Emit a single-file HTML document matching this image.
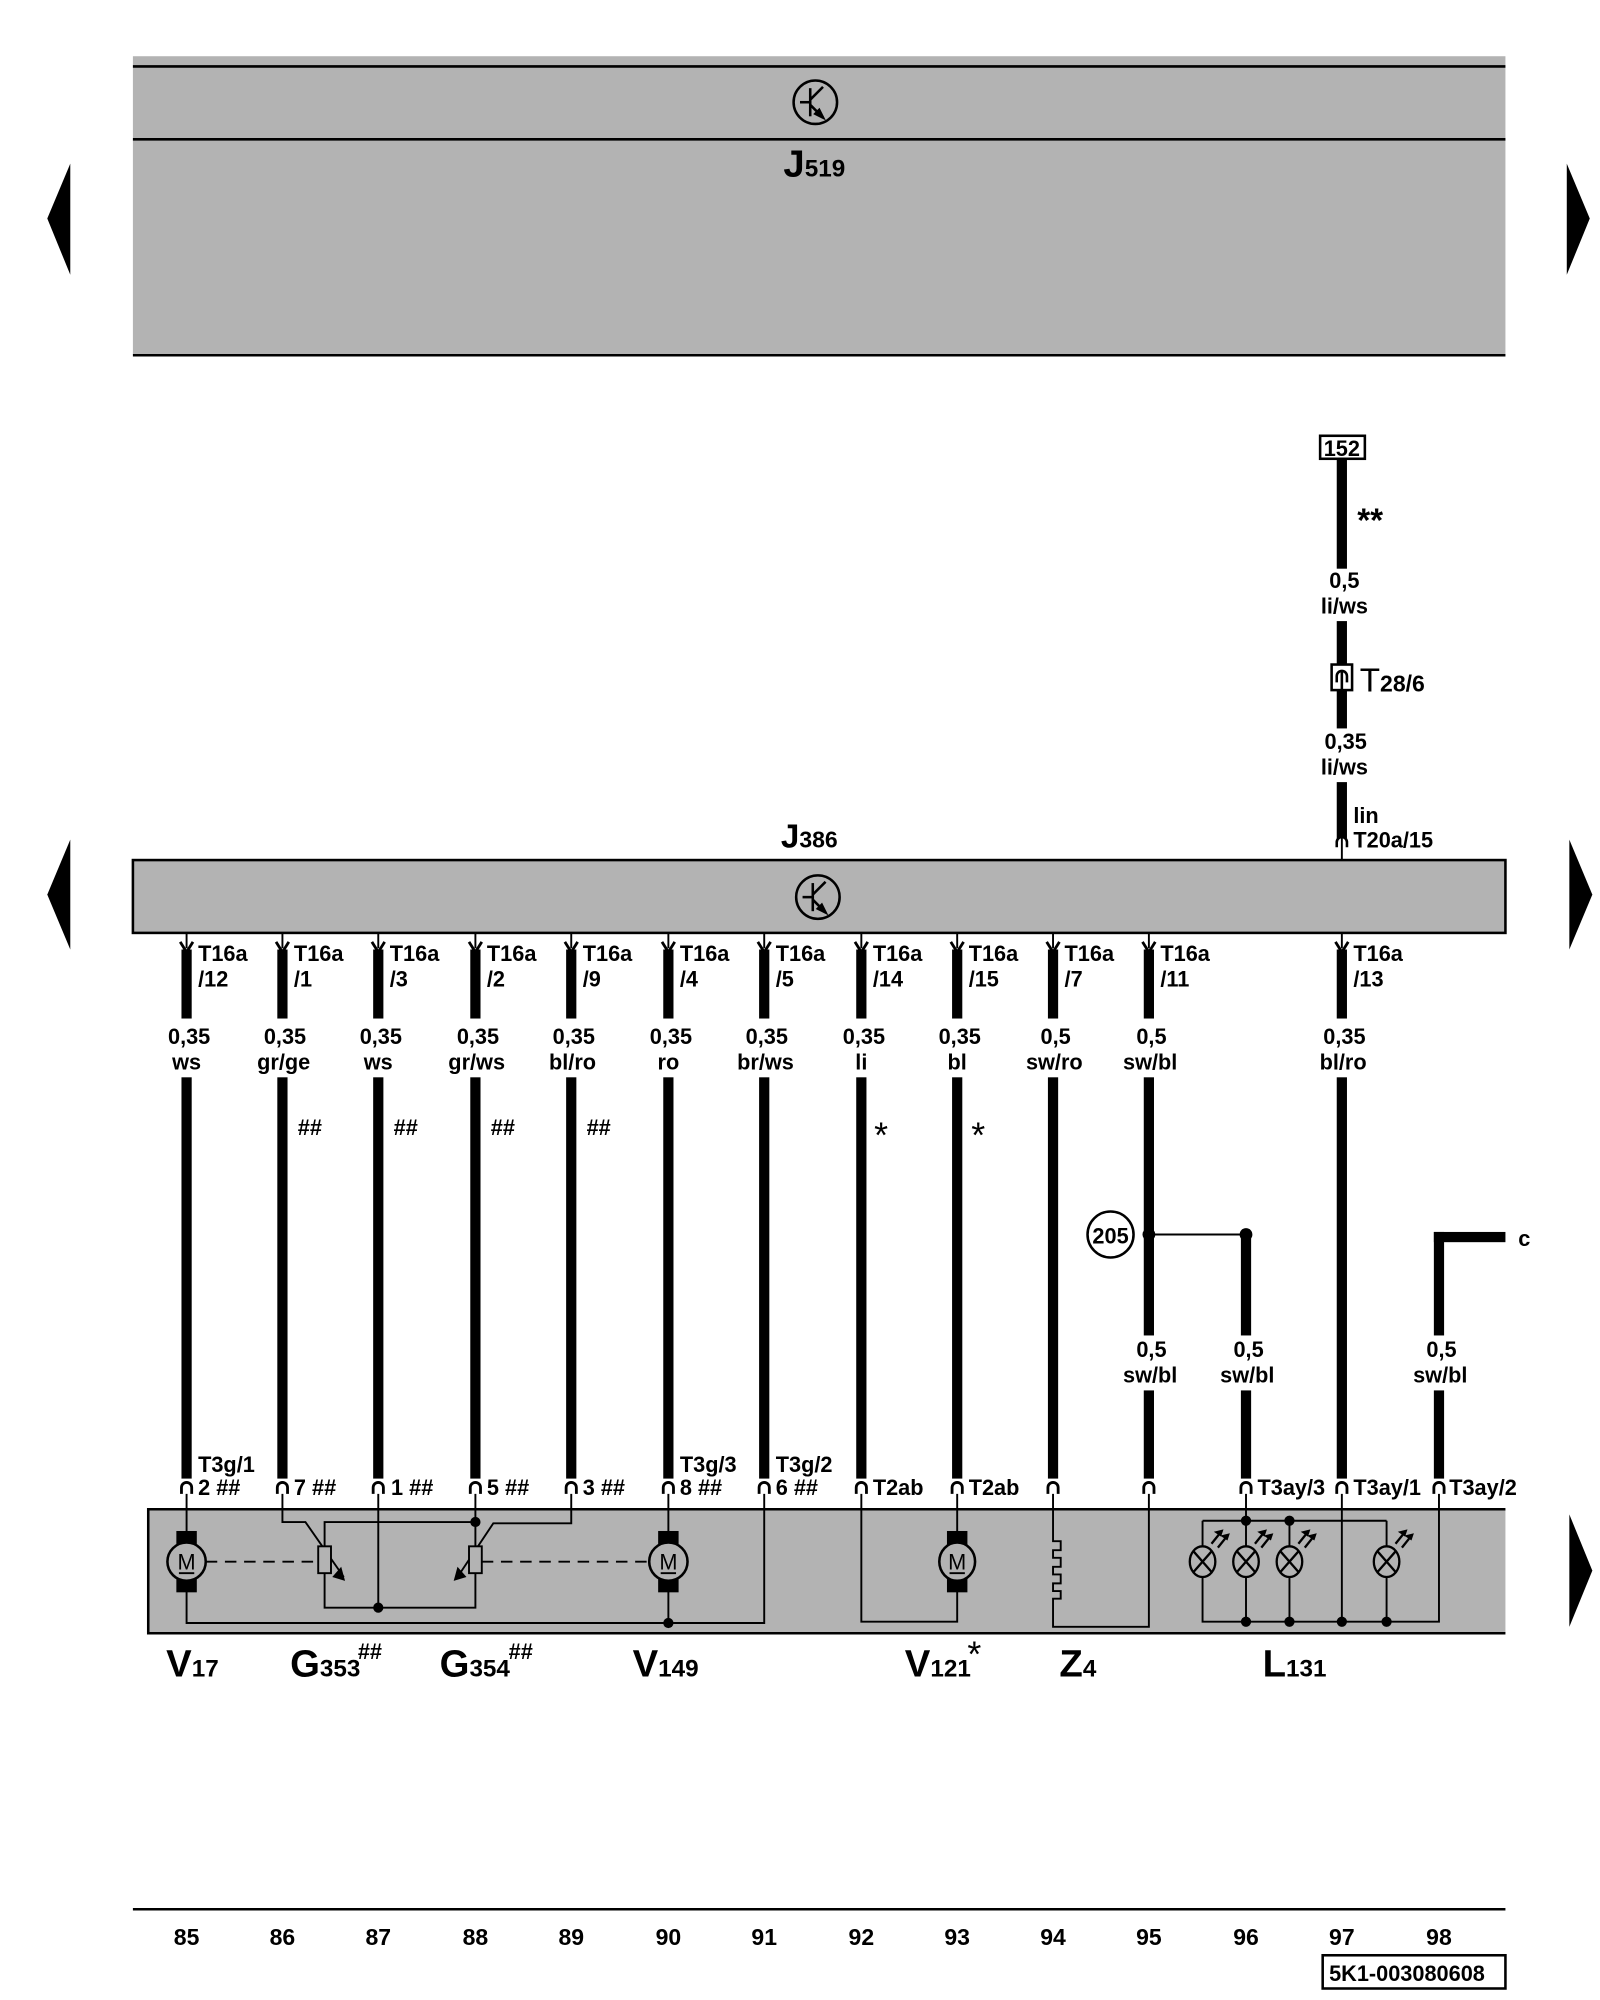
<!DOCTYPE html>
<html><head><meta charset="utf-8"><style>
html,body{margin:0;padding:0;background:#fff}
svg{display:block}
text{font-family:"Liberation Sans Narrow","Liberation Sans",sans-serif;fill:#000;font-weight:bold}
.l{font-size:17px}
.n{font-size:18px;font-family:"Liberation Sans",sans-serif;font-weight:bold}
.big{font-size:30px;font-weight:bold}
.sub{font-size:19px;font-weight:bold}
</style></head><body>
<svg width="1600" height="2000" viewBox="0 0 1252 1565" preserveAspectRatio="none" xmlns="http://www.w3.org/2000/svg">
<rect x="0" y="0" width="1252" height="1565" fill="#fff"/>
<rect x="104" y="44" width="1074" height="234" fill="#b3b3b3"/>
<line x1="104" y1="52" x2="1178" y2="52" stroke="#000" stroke-width="2"/>
<line x1="104" y1="109" x2="1178" y2="109" stroke="#000" stroke-width="2"/>
<line x1="104" y1="278" x2="1178" y2="278" stroke="#000" stroke-width="2"/>
<g transform="translate(638,80)" fill="none" stroke="#000" stroke-width="2"><circle r="17"/><line x1="-4" y1="-11" x2="-4" y2="11"/><line x1="-12" y1="0" x2="-4" y2="0"/><line x1="-4" y1="-2" x2="6" y2="-12"/><line x1="-4" y1="2" x2="6" y2="12"/><polygon points="6,12 0,9 3,6" fill="#000"/></g>
<text x="613" y="138" class="big">J<tspan class="sub">519</tspan></text>
<g fill="#000">
<polygon points="37,171 55,128 55,215"/><polygon points="1226,128 1244,171 1226,215"/>
<polygon points="37,700 55,657 55,743"/><polygon points="1228,657 1246,700 1228,743"/>
<polygon points="1228,1185 1246,1229 1228,1273"/>
</g>
<rect x="1033" y="341" width="35" height="18" fill="#fff" stroke="#000" stroke-width="2"/>
<text x="1050" y="357" class="l" text-anchor="middle">152</text>
<rect x="1046" y="359" width="8" height="86" fill="#000"/>
<text x="1062" y="416" style="font-size:26px">**</text>
<text x="1052" y="460" class="l" text-anchor="middle">0,5</text>
<text x="1052" y="480" class="l" text-anchor="middle">li/ws</text>
<rect x="1046" y="486" width="8" height="34" fill="#000"/>
<rect x="1042" y="520" width="16" height="20" fill="#fff" stroke="#000" stroke-width="2"/>
<path d="M1046,534 v-5 a4,4 0 0 1 8,0 v5 M1050,526 v14" fill="none" stroke="#000" stroke-width="2"/>
<text x="1064" y="541" style="font-size:26px;font-weight:normal">T<tspan style="font-size:18px;font-weight:bold">28/6</tspan></text>
<rect x="1046" y="540" width="8" height="30" fill="#000"/>
<text x="1053" y="586" class="l" text-anchor="middle">0,35</text>
<text x="1052" y="606" class="l" text-anchor="middle">li/ws</text>
<rect x="1046" y="612" width="8" height="44" fill="#000"/>
<path d="M1046,663 v-4 a4,4 0 0 1 8,0 v4" fill="none" stroke="#000" stroke-width="2"/>
<line x1="1050" y1="656" x2="1050" y2="673" stroke="#000" stroke-width="1.5"/>
<text x="1059" y="644" class="l">lin</text>
<text x="1059" y="663" class="l">T20a/15</text>
<text x="611" y="663" class="big" style="font-size:26px">J<tspan style="font-size:18px">386</tspan></text>
<rect x="104" y="673" width="1074" height="57" fill="#b3b3b3" stroke="#000" stroke-width="2"/>
<g transform="translate(640,702)" fill="none" stroke="#000" stroke-width="2"><circle r="17"/><line x1="-4" y1="-11" x2="-4" y2="11"/><line x1="-12" y1="0" x2="-4" y2="0"/><line x1="-4" y1="-2" x2="6" y2="-12"/><line x1="-4" y1="2" x2="6" y2="12"/><polygon points="6,12 0,9 3,6" fill="#000"/></g>
<g stroke="#000" fill="none" stroke-width="1.5">
<path d="M146,730v12M221,730v12M296,730v12M372,730v12M447,730v12M523,730v12M598,730v12M674,730v12M749,730v12M824,730v12M899,730v12M1050,730v12"/>
<path d="M141,737l5,8l5,-8M216,737l5,8l5,-8M291,737l5,8l5,-8M367,737l5,8l5,-8M442,737l5,8l5,-8M518,737l5,8l5,-8M593,737l5,8l5,-8M669,737l5,8l5,-8M744,737l5,8l5,-8M819,737l5,8l5,-8M894,737l5,8l5,-8M1045,737l5,8l5,-8" stroke-width="2.2"/>
</g>
<g fill="#000">
<rect x="142" y="743" width="8" height="54"/><rect x="217" y="743" width="8" height="54"/><rect x="292" y="743" width="8" height="54"/><rect x="368" y="743" width="8" height="54"/><rect x="443" y="743" width="8" height="54"/><rect x="519" y="743" width="8" height="54"/><rect x="594" y="743" width="8" height="54"/><rect x="670" y="743" width="8" height="54"/><rect x="745" y="743" width="8" height="54"/><rect x="820" y="743" width="8" height="54"/><rect x="895" y="743" width="8" height="54"/><rect x="1046" y="743" width="8" height="54"/>
<rect x="142" y="843" width="8" height="314"/><rect x="217" y="843" width="8" height="314"/><rect x="292" y="843" width="8" height="314"/><rect x="368" y="843" width="8" height="314"/><rect x="443" y="843" width="8" height="314"/><rect x="519" y="843" width="8" height="314"/><rect x="594" y="843" width="8" height="314"/><rect x="670" y="843" width="8" height="314"/><rect x="745" y="843" width="8" height="314"/><rect x="820" y="843" width="8" height="314"/><rect x="1046" y="843" width="8" height="314"/>
<rect x="895" y="843" width="8" height="202"/><rect x="895" y="1088" width="8" height="69"/>
<rect x="971" y="966" width="8" height="79"/><rect x="971" y="1088" width="8" height="69"/>
<rect x="1122" y="964" width="8" height="81"/><rect x="1122" y="1088" width="8" height="69"/>
<rect x="1122" y="964" width="56" height="8"/>
<circle cx="899" cy="966" r="5"/><circle cx="975" cy="966" r="5"/>
</g>
<line x1="899" y1="966" x2="975" y2="966" stroke="#000" stroke-width="1.5"/>
<ellipse cx="869" cy="966" rx="18" ry="18" fill="#fff" stroke="#000" stroke-width="2"/>
<text x="869" y="973" class="l" text-anchor="middle">205</text>
<text x="1188" y="975" class="l">c</text>
<g>
<text x="155" y="752" class="l">T16a</text><text x="155" y="772" class="l">/12</text>
<text x="230" y="752" class="l">T16a</text><text x="230" y="772" class="l">/1</text>
<text x="305" y="752" class="l">T16a</text><text x="305" y="772" class="l">/3</text>
<text x="381" y="752" class="l">T16a</text><text x="381" y="772" class="l">/2</text>
<text x="456" y="752" class="l">T16a</text><text x="456" y="772" class="l">/9</text>
<text x="532" y="752" class="l">T16a</text><text x="532" y="772" class="l">/4</text>
<text x="607" y="752" class="l">T16a</text><text x="607" y="772" class="l">/5</text>
<text x="683" y="752" class="l">T16a</text><text x="683" y="772" class="l">/14</text>
<text x="758" y="752" class="l">T16a</text><text x="758" y="772" class="l">/15</text>
<text x="833" y="752" class="l">T16a</text><text x="833" y="772" class="l">/7</text>
<text x="908" y="752" class="l">T16a</text><text x="908" y="772" class="l">/11</text>
<text x="1059" y="752" class="l">T16a</text><text x="1059" y="772" class="l">/13</text>
</g>
<g text-anchor="middle">
<text x="148" y="817" class="l">0,35</text><text x="146" y="837" class="l">ws</text>
<text x="223" y="817" class="l">0,35</text><text x="222" y="837" class="l">gr/ge</text>
<text x="298" y="817" class="l">0,35</text><text x="296" y="837" class="l">ws</text>
<text x="374" y="817" class="l">0,35</text><text x="373" y="837" class="l">gr/ws</text>
<text x="449" y="817" class="l">0,35</text><text x="448" y="837" class="l">bl/ro</text>
<text x="525" y="817" class="l">0,35</text><text x="523" y="837" class="l">ro</text>
<text x="600" y="817" class="l">0,35</text><text x="599" y="837" class="l">br/ws</text>
<text x="676" y="817" class="l">0,35</text><text x="674" y="837" class="l">li</text>
<text x="751" y="817" class="l">0,35</text><text x="749" y="837" class="l">bl</text>
<text x="826" y="817" class="l">0,5</text><text x="825" y="837" class="l">sw/ro</text>
<text x="901" y="817" class="l">0,5</text><text x="900" y="837" class="l">sw/bl</text>
<text x="1052" y="817" class="l">0,35</text><text x="1051" y="837" class="l">bl/ro</text>
<text x="901" y="1062" class="l">0,5</text><text x="900" y="1082" class="l">sw/bl</text>
<text x="977" y="1062" class="l">0,5</text><text x="976" y="1082" class="l">sw/bl</text>
<text x="1128" y="1062" class="l">0,5</text><text x="1127" y="1082" class="l">sw/bl</text>
</g>
<g>
<text x="233" y="888" class="l">##</text><text x="308" y="888" class="l">##</text><text x="384" y="888" class="l">##</text><text x="459" y="888" class="l">##</text>
<text x="684" y="898" style="font-size:28px;font-weight:normal">*</text><text x="760" y="898" style="font-size:28px;font-weight:normal">*</text>
</g>
<g stroke="#000" fill="none" stroke-width="2.2">
<path d="M142,1169v-5a4,4 0 0 1 8,0v5M217,1169v-5a4,4 0 0 1 8,0v5M292,1169v-5a4,4 0 0 1 8,0v5M368,1169v-5a4,4 0 0 1 8,0v5M443,1169v-5a4,4 0 0 1 8,0v5M519,1169v-5a4,4 0 0 1 8,0v5M594,1169v-5a4,4 0 0 1 8,0v5M670,1169v-5a4,4 0 0 1 8,0v5M745,1169v-5a4,4 0 0 1 8,0v5M820,1169v-5a4,4 0 0 1 8,0v5M895,1169v-5a4,4 0 0 1 8,0v5M971,1169v-5a4,4 0 0 1 8,0v5M1046,1169v-5a4,4 0 0 1 8,0v5M1122,1169v-5a4,4 0 0 1 8,0v5"/>
</g>
<g>
<text x="155" y="1152" class="l">T3g/1</text><text x="155" y="1170" class="l">2 ##</text>
<text x="230" y="1170" class="l">7 ##</text>
<text x="306" y="1170" class="l">1 ##</text>
<text x="381" y="1170" class="l">5 ##</text>
<text x="456" y="1170" class="l">3 ##</text>
<text x="532" y="1152" class="l">T3g/3</text><text x="532" y="1170" class="l">8 ##</text>
<text x="607" y="1152" class="l">T3g/2</text><text x="607" y="1170" class="l">6 ##</text>
<text x="683" y="1170" class="l">T2ab</text>
<text x="758" y="1170" class="l">T2ab</text>
<text x="984" y="1170" class="l">T3ay/3</text>
<text x="1059" y="1170" class="l">T3ay/1</text>
<text x="1134" y="1170" class="l">T3ay/2</text>
</g>
<rect x="116" y="1181" width="1062" height="97" fill="#b3b3b3"/>
<path d="M1178,1181H116V1278H1178" fill="none" stroke="#000" stroke-width="2"/>
<g stroke="#000" stroke-width="1.5" fill="none">
<path d="M146,1169v29M523,1169v29M749,1169v29"/>
<path d="M146,1245v25H598V1169"/>
<path d="M523,1245v25"/>
<path d="M221,1169v22h18l30,43"/>
<path d="M254,1210v-19h118M254,1231v27h118v-27M372,1169v41M296,1169v89"/>
<path d="M447,1169v23h-61l-28,42"/>
<path d="M161,1222H249M377,1222H508" stroke-dasharray="9,6"/>
<path d="M674,1169v100h75v-24"/>
<path d="M824,1169v37h6v7h-6v6h6v7h-6v6h6v7h-6v6h6v6h-6v22h75V1169"/>
<path d="M975,1169v21M941,1190h144M941,1190v20M975,1190v20M1009,1190v20M1085,1190v20M941,1234v35h185V1169M975,1234v35M1009,1234v35M1085,1234v35M1050,1169v100"/>
</g>
<g fill="#b3b3b3" stroke="#000" stroke-width="1.5"><rect x="249" y="1210" width="10" height="21"/><rect x="367" y="1210" width="10" height="21"/></g>
<polygon points="270,1237 260,1234 267,1226" fill="#000"/>
<polygon points="355,1237 358,1226 365,1234" fill="#000"/>
<g fill="#000"><circle cx="372" cy="1191" r="4"/><circle cx="296" cy="1258" r="4"/><circle cx="523" cy="1270" r="4"/>
<circle cx="975" cy="1190" r="4"/><circle cx="1009" cy="1190" r="4"/><circle cx="975" cy="1269" r="4"/><circle cx="1009" cy="1269" r="4"/><circle cx="1050" cy="1269" r="4"/><circle cx="1085" cy="1269" r="4"/></g>
<g>
<g transform="translate(146,1222)"><rect x="-8" y="-24" width="16" height="48" fill="#000"/><ellipse rx="15" ry="15" fill="#b3b3b3" stroke="#000" stroke-width="2"/><text y="6" text-anchor="middle" style="font-size:17px;font-weight:normal">M</text><line x1="-6" y1="9" x2="6" y2="9" stroke="#000" stroke-width="1.5"/></g>
<g transform="translate(523,1222)"><rect x="-8" y="-24" width="16" height="48" fill="#000"/><ellipse rx="15" ry="15" fill="#b3b3b3" stroke="#000" stroke-width="2"/><text y="6" text-anchor="middle" style="font-size:17px;font-weight:normal">M</text><line x1="-6" y1="9" x2="6" y2="9" stroke="#000" stroke-width="1.5"/></g>
<g transform="translate(749,1222)"><rect x="-8" y="-24" width="16" height="48" fill="#000"/><ellipse rx="14" ry="15" fill="#b3b3b3" stroke="#000" stroke-width="2"/><text y="6" text-anchor="middle" style="font-size:17px;font-weight:normal">M</text><line x1="-6" y1="9" x2="6" y2="9" stroke="#000" stroke-width="1.5"/></g>
</g>
<g stroke="#000" stroke-width="1.8" fill="#b3b3b3">
<g transform="translate(941,1222)"><ellipse rx="10" ry="12"/><path d="M-7,-8L7,8M-7,8L7,-8"/><path d="M7,-14l8,-10M12,-11l8,-10" fill="none"/><path d="M15,-24l-4,1l3,2zM20,-21l-4,1l3,2z" fill="#000"/></g>
<g transform="translate(975,1222)"><ellipse rx="10" ry="12"/><path d="M-7,-8L7,8M-7,8L7,-8"/><path d="M7,-14l8,-10M12,-11l8,-10" fill="none"/><path d="M15,-24l-4,1l3,2zM20,-21l-4,1l3,2z" fill="#000"/></g>
<g transform="translate(1009,1222)"><ellipse rx="10" ry="12"/><path d="M-7,-8L7,8M-7,8L7,-8"/><path d="M7,-14l8,-10M12,-11l8,-10" fill="none"/><path d="M15,-24l-4,1l3,2zM20,-21l-4,1l3,2z" fill="#000"/></g>
<g transform="translate(1085,1222)"><ellipse rx="10" ry="12"/><path d="M-7,-8L7,8M-7,8L7,-8"/><path d="M7,-14l8,-10M12,-11l8,-10" fill="none"/><path d="M15,-24l-4,1l3,2zM20,-21l-4,1l3,2z" fill="#000"/></g>
</g>
<g>
<text x="130" y="1312" class="big">V<tspan class="sub">17</tspan></text>
<text x="227" y="1312" class="big">G<tspan class="sub">353</tspan></text><text x="280" y="1298" class="l">##</text>
<text x="344" y="1312" class="big">G<tspan class="sub">354</tspan></text><text x="398" y="1298" class="l">##</text>
<text x="495" y="1312" class="big">V<tspan class="sub">149</tspan></text>
<text x="708" y="1312" class="big">V<tspan class="sub">121</tspan></text><text x="757" y="1304" style="font-size:28px;font-weight:normal">*</text>
<text x="829" y="1312" class="big">Z<tspan class="sub">4</tspan></text>
<text x="988" y="1312" class="big">L<tspan class="sub">131</tspan></text>
</g>
<line x1="104" y1="1494" x2="1178" y2="1494" stroke="#000" stroke-width="2"/>
<g text-anchor="middle">
<text x="146" y="1522" class="n">85</text><text x="221" y="1522" class="n">86</text><text x="296" y="1522" class="n">87</text><text x="372" y="1522" class="n">88</text><text x="447" y="1522" class="n">89</text><text x="523" y="1522" class="n">90</text><text x="598" y="1522" class="n">91</text><text x="674" y="1522" class="n">92</text><text x="749" y="1522" class="n">93</text><text x="824" y="1522" class="n">94</text><text x="899" y="1522" class="n">95</text><text x="975" y="1522" class="n">96</text><text x="1050" y="1522" class="n">97</text><text x="1126" y="1522" class="n">98</text>
</g>
<rect x="1035" y="1530" width="143" height="26" fill="#fff" stroke="#000" stroke-width="2"/>
<text x="1040" y="1550" class="n" style="font-size:17px">5K1-003080608</text>
</svg>
</body></html>
